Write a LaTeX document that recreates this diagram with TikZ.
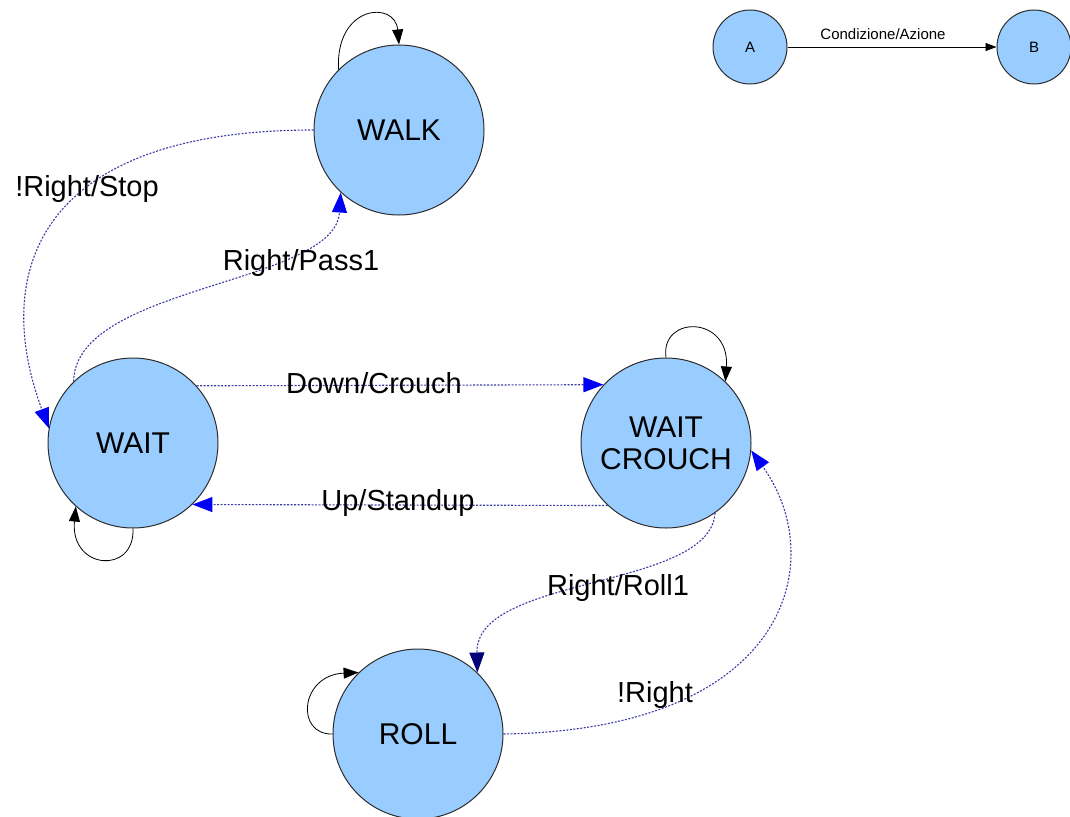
\documentclass[tikz,border=0pt]{standalone}
\usepackage{fontspec}
\setmainfont{Liberation Sans}
\usetikzlibrary{arrows.meta}
\definecolor{statefill}{RGB}{153,204,255}
\definecolor{stateline}{RGB}{45,45,45}
\definecolor{transline}{RGB}{60,60,165}
\definecolor{tipblue}{RGB}{0,0,245}
\definecolor{tipnavy}{RGB}{0,0,120}
\begin{document}
\begin{tikzpicture}[x=1pt,y=-1pt,
  state/.style={circle, draw=stateline, line width=1pt, fill=statefill,
    minimum size=170pt, inner sep=0pt, align=center,
    font=\fontsize{30}{32}\selectfont},
  smallstate/.style={state, minimum size=74pt, font=\fontsize{15}{18}\selectfont},
  trans/.style={draw=transline, line width=1.1pt, dash pattern=on 2pt off 1.5pt,
    -{Triangle[length=20pt,width=15pt,color=tipblue]}},
  transnavy/.style={trans, -{Triangle[length=20pt,width=15pt,color=tipnavy]}},
  selfloop/.style={draw=black, line width=0.8pt,
    -{Triangle[length=15pt,width=11pt,color=black]}},
  lbl/.style={inner sep=0pt, font=\fontsize{29}{33}\selectfont},
  smalllbl/.style={inner sep=0pt, font=\fontsize{15}{18}\selectfont}
]
\useasboundingbox (0,0) rectangle (1070,816);

% states
\node[state] (walk)   at (399,130) {WALK};
\node[state] (wait)   at (133,443) {WAIT};
\node[state] (crouch) at (666,443) {WAIT\\CROUCH};
\node[state] (roll)   at (418,734) {ROLL};

% legend
\node[smallstate] (a) at (750,47) {A};
\node[smallstate] (b) at (1034,47) {B};
\draw[line width=0.8pt, -{Triangle[length=11pt,width=8pt]}] (a.east) -- (b.west);
\node[smalllbl] (legendlbl) at (883,34) {Condizione/Azione};

% self loops
\draw[selfloop] (walk.135) .. controls (335,5) and (395,0) .. (walk.90);
\draw[selfloop] (wait.-90) .. controls (135,575) and (70,570) .. (wait.228);
\draw[selfloop] (crouch.90) .. controls (660,315) and (730,315) .. (crouch.46);
\draw[selfloop] (roll.180) .. controls (295,735) and (300,675) .. (roll.134);

% transitions
\draw[trans] (walk.180) .. controls (40,130) and (-10,270) .. (wait.170);
\draw[trans] (wait.134) .. controls (75,285) and (335,285) .. (walk.227);
\draw[trans] (wait.42.4) -- (crouch.137.6);
\draw[trans] (crouch.-133.9) -- (wait.-46.1);
\draw[transnavy] (crouch.-55) .. controls (710,590) and (475,575) .. (roll.46);
\draw[trans] (roll.0) .. controls (790,730) and (830,560) .. (crouch.-5);

% transition labels
\node[lbl] (lstop)   at (87,189)  {!Right/Stop};
\node[lbl] (lpass)   at (301,263) {Right/Pass1};
\node[lbl] (ldown)   at (374,383) {Down/Crouch};
\node[lbl] (lup)     at (398,503) {Up/Standup};
\node[lbl] (lroll)   at (618,588) {Right/Roll1};
\node[lbl] (lnright) at (655,695) {!Right};
\end{tikzpicture}
\end{document}
